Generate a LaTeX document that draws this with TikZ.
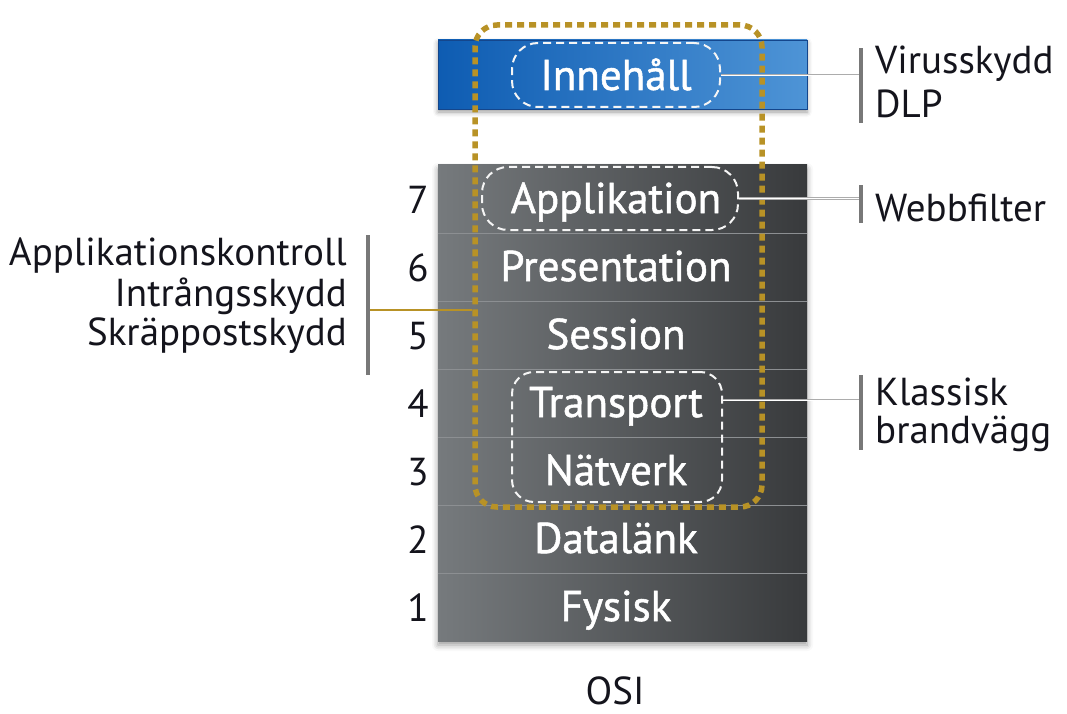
\documentclass[tikz,border=0pt]{standalone}
\usepackage{fontspec}
\setmainfont{PT Sans}
\newfontfamily\layerfont{PT Sans}[FakeBold=1.2]
\usetikzlibrary{shadows.blur}

\definecolor{stackL}{RGB}{118,122,125}
\definecolor{stackM}{RGB}{86,89,92}
\definecolor{stackR}{RGB}{56,58,60}
\definecolor{blueL}{RGB}{14,92,178}
\definecolor{blueR}{RGB}{78,148,214}
\definecolor{blueEdge}{RGB}{20,70,140}
\definecolor{gold}{RGB}{184,146,38}
\definecolor{sepline}{RGB}{140,143,146}
\definecolor{barcol}{RGB}{120,120,120}
\definecolor{ink}{RGB}{20,20,28}

\tikzset{
  layertext/.style={anchor=base, text=white, font=\layerfont\fontsize{43}{43}\selectfont, inner sep=0pt},
  layernum/.style={anchor=base, text=ink, font=\fontsize{39}{39}\selectfont, inner sep=0pt},
  sidetext/.style={text=ink, font=\fontsize{39}{39}\selectfont, inner sep=0pt},
  dashbox/.style={draw=white!92!gray, line width=2pt, dash pattern=on 8pt off 5pt,
    rectangle, inner sep=0pt},
  fwbox/.style={draw=gold, line width=5.5pt, dash pattern=on 7pt off 5pt,
    rounded corners=22pt, rectangle, inner sep=0pt},
  vbar/.style={fill=barcol, rectangle, minimum width=4pt, inner sep=0pt},
  link/.style={draw=gray!65, line width=0.8pt, double=white, double distance=0.9pt},
  sep/.style={draw=sepline, line width=0.9pt},
}

\begin{document}
\begin{tikzpicture}[x=1pt, y=-1pt]
\useasboundingbox (0,0) rectangle (1067,714);

% content layer above the stack
\node[rectangle, minimum width=369pt, minimum height=69pt, inner sep=0pt,
      left color=blueL, right color=blueR, draw=blueEdge, line width=0.6pt,
      blur shadow={shadow xshift=0pt, shadow yshift=-3pt, shadow blur radius=5pt}]
      (blue) at (622.5,74.5) {};

% the OSI stack
\node[rectangle, minimum width=369pt, minimum height=476pt, inner sep=0pt,
      left color=stackL, middle color=stackM, right color=stackR,
      blur shadow={shadow xshift=0pt, shadow yshift=-4pt, shadow blur radius=6pt}]
      (stack) at (622.5,403) {};

% row separators
\foreach \yy in {233,301,369,437,505,573}
  \draw[sep] (stack.west |- 0,\yy) -- (stack.east |- 0,\yy);

% layer names
\node[layertext] (inn) at (616,90) {Innehåll};
\node[layertext] (l7) at (616,213) {Applikation};
\node[layertext] (l6) at (616,281) {Presentation};
\node[layertext] (l5) at (616,349) {Session};
\node[layertext] (l4) at (616,417) {Transport};
\node[layertext] (l3) at (616,485) {Nätverk};
\node[layertext] (l2) at (616,553) {Datalänk};
\node[layertext] (l1) at (616,621) {Fysisk};

% layer numbers
\node[layernum] (n7) at (418,213) {7};
\node[layernum] (n6) at (418,281) {6};
\node[layernum] (n5) at (418,349) {5};
\node[layernum] (n4) at (418,417) {4};
\node[layernum] (n3) at (418,485) {3};
\node[layernum] (n2) at (418,553) {2};
\node[layernum] (n1) at (418,621) {1};

\node[layernum, text depth=0pt] (osi) at (615,704) {OSI};

% dashed groupings
\node[dashbox, rounded corners=26pt, minimum width=208pt, minimum height=64pt] (innbox) at (616,75) {};
\node[dashbox, rounded corners=26pt, minimum width=256pt, minimum height=63pt] (appbox) at (610,198.5) {};
\node[dashbox, rounded corners=22pt, minimum width=210pt, minimum height=130pt] (tnbox) at (617,437) {};

% firewall scope
\node[fwbox, minimum width=287pt, minimum height=482pt] (fw) at (618.5,266) {};

% right-hand labels
\node[vbar, minimum height=75pt] (bar1) at (861,85.5) {};
\node[vbar, minimum height=38pt] (bar2) at (861,204) {};
\node[vbar, minimum height=75pt] (bar3) at (861,412.5) {};

\node[sidetext, anchor=base west] (vir) at (875,74) {Virusskydd};
\node[sidetext, anchor=base west] (dlp) at (875,118) {DLP};
\node[sidetext, anchor=base west] (web) at (875,221) {Webbfilter};
\node[sidetext, anchor=base west] (kla) at (875,405) {Klassisk};
\node[sidetext, anchor=base west] (bra) at (875,443) {brandvägg};

\coordinate (c1) at (innbox.east);
\coordinate (c2) at (appbox.east);
\coordinate (c3) at (tnbox.east |- 0,400);
\draw[link] (c1) -- (bar1.west |- c1);
\draw[link] (c2) -- (bar2.west |- c2);
\draw[link] (c3) -- (bar3.west |- c3);

% left-hand labels
\node[vbar, minimum height=140pt] (bar4) at (368,305) {};
\node[sidetext, anchor=base east] (ak) at (347,265) {Applikationskontroll};
\node[sidetext, anchor=base east] (is) at (347,306) {Intrångsskydd};
\node[sidetext, anchor=base east] (sp) at (347,345) {Skräppostskydd};

\draw[draw=gold, line width=1.8pt] (bar4.east |- 0,310) -- (fw.west |- 0,310);
\end{tikzpicture}
\end{document}
